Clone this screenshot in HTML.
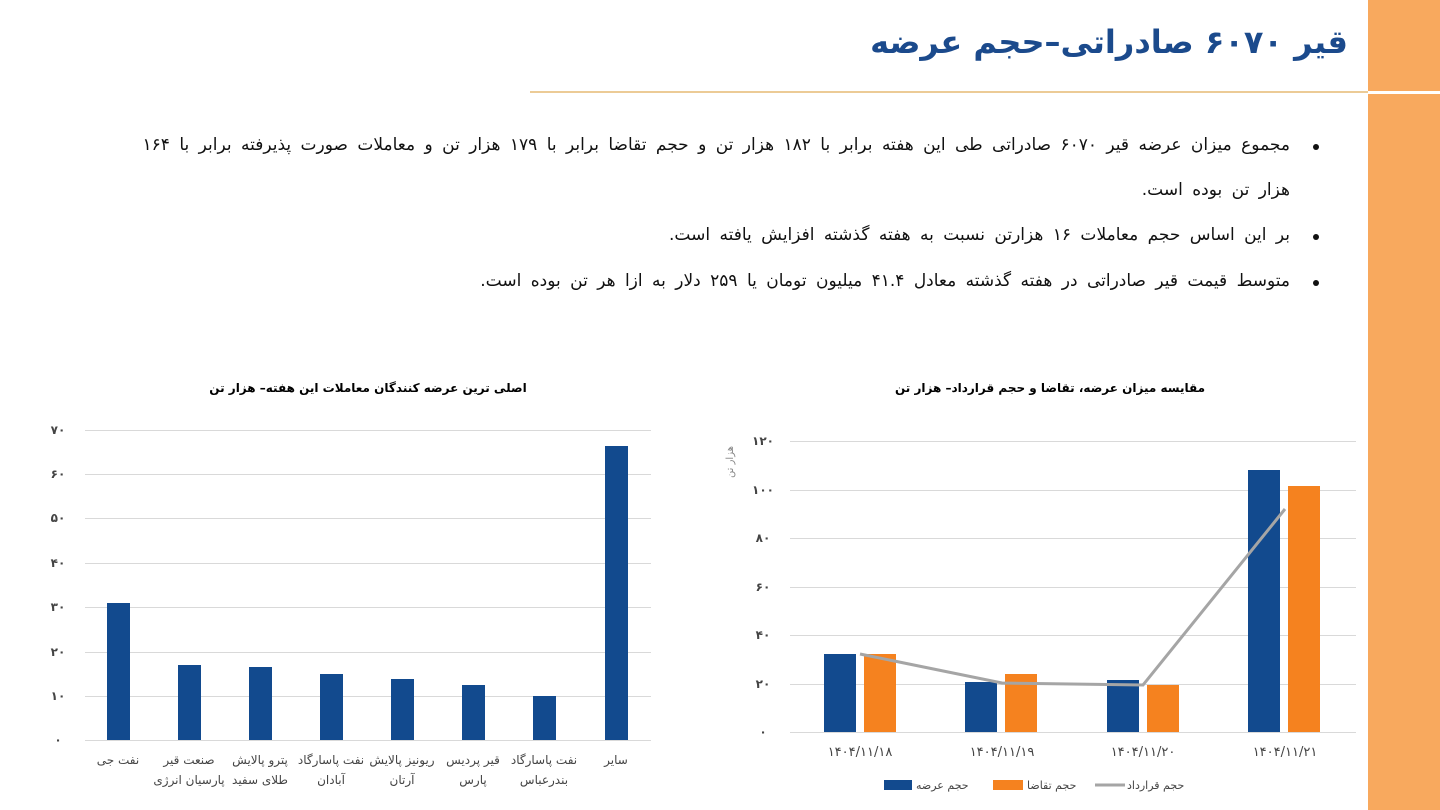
<!DOCTYPE html>
<html><head><meta charset="utf-8"><style>
body{margin:0;width:1440px;height:810px;background:#fff;position:relative;overflow:hidden;font-family:"DejaVu Sans","Liberation Sans",sans-serif;}
.side{position:absolute;left:1368px;top:0;width:72px;height:810px;background:#f8a95e;}
.sideline{position:absolute;left:1368px;top:91px;width:72px;height:3px;background:#fff;}
.rule{position:absolute;left:530px;top:91px;width:838px;height:2px;background:#eccb96;}
.title{position:absolute;right:92px;top:23px;direction:rtl;font-size:32px;font-weight:bold;color:#1b4a8c;white-space:nowrap;}
.b{position:absolute;right:150px;direction:rtl;font-size:17px;word-spacing:4px;color:#111;white-space:nowrap;}
.dot{position:absolute;left:1313px;width:6px;height:6px;border-radius:50%;background:#111;}
svg text{font-family:"DejaVu Sans","Liberation Sans",sans-serif;}
</style></head><body>
<div class="side"></div><div class="sideline"></div><div class="rule"></div>
<div class="title">قیر ۶۰۷۰ صادراتی–حجم عرضه</div>
<div class="dot" style="top:144px"></div>
<div class="b" style="top:135px">مجموع میزان عرضه قیر ۶۰۷۰ صادراتی طی این هفته برابر با ۱۸۲ هزار تن و حجم تقاضا برابر با ۱۷۹ هزار تن و معاملات صورت پذیرفته برابر با ۱۶۴</div>
<div class="b" style="top:180px">هزار تن بوده است.</div>
<div class="dot" style="top:234px"></div>
<div class="b" style="top:225px">بر این اساس حجم معاملات ۱۶ هزارتن نسبت به هفته گذشته افزایش یافته است.</div>
<div class="dot" style="top:280px"></div>
<div class="b" style="top:271px">متوسط قیمت قیر صادراتی در هفته گذشته معادل ۴۱.۴ میلیون تومان یا ۲۵۹ دلار به ازا هر تن بوده است.</div>

<svg width="1440" height="810" style="position:absolute;left:0;top:0" font-size="12">
<!-- left chart -->
<text x="368" y="392" text-anchor="middle" font-size="12" font-weight="bold">اصلی ترین عرضه کنندگان معاملات این هفته– هزار تن</text>
<g stroke="#d9d9d9" stroke-width="1">
<line x1="85" x2="651" y1="430.5" y2="430.5"/><line x1="85" x2="651" y1="474.5" y2="474.5"/><line x1="85" x2="651" y1="518.5" y2="518.5"/><line x1="85" x2="651" y1="563.5" y2="563.5"/><line x1="85" x2="651" y1="607.5" y2="607.5"/><line x1="85" x2="651" y1="652.5" y2="652.5"/><line x1="85" x2="651" y1="696.5" y2="696.5"/><line x1="85" x2="651" y1="740.5" y2="740.5"/>
</g>
<g fill="#444" text-anchor="middle" font-weight="bold">
<text x="58" y="434">۷۰</text><text x="58" y="478">۶۰</text><text x="58" y="522">۵۰</text><text x="58" y="567">۴۰</text><text x="58" y="611">۳۰</text><text x="58" y="656">۲۰</text><text x="58" y="700">۱۰</text><text x="58" y="744">۰</text>
</g>
<g fill="#124a8e">
<rect x="107" y="603" width="23" height="137"/><rect x="178" y="665" width="23" height="75"/><rect x="249" y="667" width="23" height="73"/><rect x="320" y="674" width="23" height="66"/><rect x="391" y="679" width="23" height="61"/><rect x="462" y="685" width="23" height="55"/><rect x="533" y="696" width="23" height="44"/><rect x="605" y="446" width="23" height="294"/>
</g>
<g fill="#444" text-anchor="middle">
<text x="118" y="764">نفت جی</text>
<text x="189" y="764">صنعت قیر</text><text x="189" y="784">پارسیان انرژی</text>
<text x="260" y="764">پترو پالایش</text><text x="260" y="784">طلای سفید</text>
<text x="331" y="764">نفت پاسارگاد</text><text x="331" y="784">آبادان</text>
<text x="402" y="764">ریونیز پالایش</text><text x="402" y="784">آرتان</text>
<text x="473" y="764">قیر پردیس</text><text x="473" y="784">پارس</text>
<text x="544" y="764">نفت پاسارگاد</text><text x="544" y="784">بندرعباس</text>
<text x="616" y="764">سایر</text>
</g>
<!-- right chart -->
<text x="1050" y="392" text-anchor="middle" font-size="12" font-weight="bold">مقایسه میزان عرضه، تقاضا و حجم قرارداد–  هزار تن</text>
<text transform="translate(733,462) rotate(-90)" font-size="10" fill="#888" text-anchor="middle">هزار تن</text>
<g stroke="#d9d9d9" stroke-width="1">
<line x1="790" x2="1356" y1="441.5" y2="441.5"/><line x1="790" x2="1356" y1="490.5" y2="490.5"/><line x1="790" x2="1356" y1="538.5" y2="538.5"/><line x1="790" x2="1356" y1="587.5" y2="587.5"/><line x1="790" x2="1356" y1="635.5" y2="635.5"/><line x1="790" x2="1356" y1="684.5" y2="684.5"/><line x1="790" x2="1356" y1="732.5" y2="732.5"/>
</g>
<g fill="#444" text-anchor="middle" font-weight="bold">
<text x="763" y="445">۱۲۰</text><text x="763" y="494">۱۰۰</text><text x="763" y="542">۸۰</text><text x="763" y="591">۶۰</text><text x="763" y="639">۴۰</text><text x="763" y="688">۲۰</text><text x="763" y="736">۰</text>
</g>
<g fill="#124a8e">
<rect x="824" y="654" width="32" height="78"/><rect x="965" y="682" width="32" height="50"/><rect x="1107" y="680" width="32" height="52"/><rect x="1248" y="470" width="32" height="262"/>
</g>
<g fill="#f5821f">
<rect x="864" y="654" width="32" height="78"/><rect x="1005" y="674" width="32" height="58"/><rect x="1147" y="685" width="32" height="47"/><rect x="1288" y="486" width="32" height="246"/>
</g>
<polyline points="860,654 1002,683 1143,685 1285,509" fill="none" stroke="#a5a5a5" stroke-width="3"/>
<g fill="#444" text-anchor="middle" font-size="13">
<text x="860" y="756">۱۴۰۴/۱۱/۱۸</text><text x="1002" y="756">۱۴۰۴/۱۱/۱۹</text><text x="1143" y="756">۱۴۰۴/۱۱/۲۰</text><text x="1285" y="756">۱۴۰۴/۱۱/۲۱</text>
</g>
<rect x="884" y="780" width="28" height="10" fill="#124a8e"/>
<text x="916" y="789" font-size="11" fill="#444">حجم عرضه</text>
<rect x="993" y="780" width="30" height="10" fill="#f5821f"/>
<text x="1027" y="789" font-size="11" fill="#444">حجم تقاضا</text>
<line x1="1095" x2="1125" y1="785" y2="785" stroke="#a5a5a5" stroke-width="3"/>
<text x="1127" y="789" font-size="11" fill="#444">حجم قرارداد</text>
</svg>
</body></html>
